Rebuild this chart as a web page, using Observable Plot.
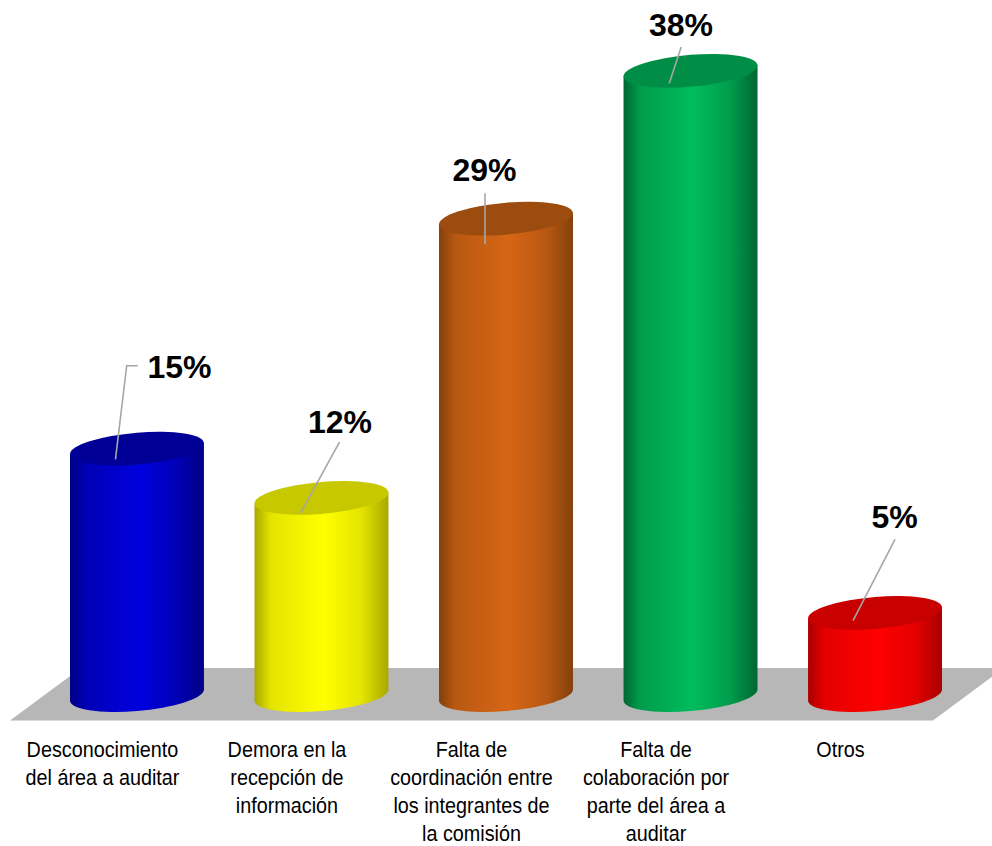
<!DOCTYPE html>
<html lang="es">
<head>
<meta charset="utf-8">
<title>Causas de demora en la auditoría</title>
<script src="https://cdn.jsdelivr.net/npm/d3@7"></script>
<script src="https://cdn.jsdelivr.net/npm/@observablehq/plot@0.6"></script>
<style>
  html, body { margin: 0; padding: 0; background: #fff; }
  svg { display: block; }
</style>
</head>
<body>
<div id="chart"></div>
<script>
// Survey results
const categories = [
  "Desconocimiento\ndel área a auditar",
  "Demora en la\nrecepción de\ninformación",
  "Falta de\ncoordinación entre\nlos integrantes de\nla comisión",
  "Falta de\ncolaboración por\nparte del área a\nauditar",
  "Otros"
];
const values = [15, 12, 29, 38, 5];

// Cylinder shading: edge, shoulder, highlight, cap
const shades = [
  ["#000084", "#0000b4", "#0000e0", "#000096"],
  ["#a8a800", "#e4e400", "#ffff00", "#c8c800"],
  ["#84400c", "#b85812", "#d66614", "#9c4c0e"],
  ["#006632", "#009c4c", "#00bc5c", "#008e46"],
  ["#a80000", "#e40000", "#ff0000", "#c80000"]
];

// Label and leader placement relative to each cylinder's cap centre, in pixels
const labelDx = [42, 18, -22, -10, 19];
const labelDy = [-81, -76, -48, -46, -96];
const leaderFoot = [[-21.5, 10.7], [-21, 15.3], [-21, 25.5], [-21.3, 12.7], [-22, 7.8]];
const leaderHead = [[-10.3, -82.9], [18, -55.7], [-21, -25.5], [-9.3, -23.9], [20, -73.6]];
const leaderTail = [[0.7, -82.9], null, null, null, null];

const rows = categories.map((category, i) => ({category, value: values[i], i}));

const capRy = 16;
const skew = -4.7;
const floorColor = "#b7b7b7";
const leaderColor = "#a6a6a6";

// Grey parallelogram that the cylinders stand on
function floor(index, {x, y}) {
  const left = x(categories[0]) - 60;
  const right = x(categories[4]) + x.bandwidth() - 9;
  const front = y(0) + 25.5;
  const back = y(0) - 27;
  const depth = 71;
  return d3.create("svg:polygon")
    .attr("points", [[left, front], [right, front], [right + depth, back], [left + depth, back]].join(" "))
    .attr("fill", floorColor)
    .node();
}

// Each bar becomes a sheared cylinder: shaded body plus a darker elliptical cap
function cylinders(index, {x, y}) {
  const g = d3.create("svg:g");
  const defs = g.append("defs");
  const rx = x.bandwidth() / 2;
  for (const i of index) {
    const d = rows[i];
    const [edge, shoulder, bright, cap] = shades[d.i];
    const id = `shade-${d.i}`;
    const gradient = defs.append("linearGradient").attr("id", id)
      .attr("x1", 0).attr("x2", 1).attr("y1", 0).attr("y2", 0);
    [[0, edge], [0.12, shoulder], [0.52, bright], [0.8, shoulder], [1, edge]]
      .forEach(([o, c]) => gradient.append("stop").attr("offset", o).attr("stop-color", c));
    const cx = x(d.category) + rx;
    const top = y(d.value);
    const bottom = y(0);
    const c = g.append("g").attr("transform", `translate(${cx},0) skewY(${skew})`);
    c.append("path")
      .attr("d", `M${-rx},${top}V${bottom}A${rx},${capRy} 0 0 0 ${rx},${bottom}V${top}Z`)
      .attr("fill", `url(#${id})`);
    c.append("ellipse")
      .attr("cx", 0).attr("cy", top)
      .attr("rx", rx).attr("ry", capRy)
      .attr("fill", cap);
  }
  return g.node();
}

// Thin grey leaders from the top of each cylinder towards its percentage
function leaders(index, {x, y}) {
  const g = d3.create("svg:g").attr("fill", "none").attr("stroke", leaderColor).attr("stroke-width", 1.6);
  rows.forEach(d => {
    const cx = x(d.category) + x.bandwidth() / 2;
    const cy = y(d.value);
    const pts = [leaderFoot[d.i], leaderHead[d.i], leaderTail[d.i]].filter(Boolean)
      .map(([dx, dy]) => [cx + dx, cy + dy]);
    g.append("polyline").attr("points", pts.join(" "));
  });
  return g.node();
}

// Narrows the category captions horizontally around their anchor
function condensed(index, scales, values, dimensions, context, next) {
  const g = next(index, scales, values, dimensions, context);
  g.querySelectorAll("text").forEach(t => {
    t.setAttribute("transform", `${t.getAttribute("transform") ?? ""} scale(0.9,1)`);
  });
  return g;
}

const plot = Plot.plot({
  width: 992,
  height: 846,
  margin: 0,
  style: {background: "#fff", fontFamily: "'Liberation Sans', Arial, sans-serif"},
  x: {domain: categories, range: [70, 942], paddingInner: 0.274, paddingOuter: 0, round: false, axis: null},
  y: {domain: [0, 40], range: [695, 38], axis: null},
  marks: [
    floor,
    Plot.barY(rows, {x: "category", y: "value", render: cylinders}),
    leaders,
    ...rows.map(d => Plot.text([d], {
      x: "category",
      y: "value",
      text: r => `${r.value}%`,
      dx: labelDx[d.i],
      dy: labelDy[d.i],
      fontSize: 32,
      fontWeight: 700,
      fill: "#000"
    })),
    Plot.text(rows, {
      x: "category",
      y: () => 0,
      text: "category",
      dx: -35,
      dy: 42,
      lineAnchor: "top",
      lineHeight: 1.27,
      fontSize: 22,
      fill: "#000",
      render: condensed
    })
  ]
});
document.getElementById("chart").append(plot);
</script>
</body>
</html>
